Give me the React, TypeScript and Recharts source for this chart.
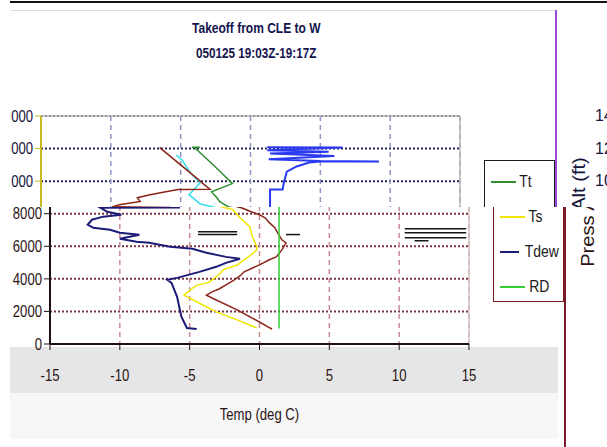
import { ScatterChart, Scatter, XAxis, YAxis, CartesianGrid, ReferenceLine } from "recharts";

const W = 607;
const H = 447;
const SPLIT = 207; // the upper band is drawn offset to the left
const SHIFT = -9;
const FONT = "'Liberation Sans', Arial, sans-serif";
const NARROW = 0.82; // Arial Narrow look from Liberation Sans

const PLOT = { left: 50, right: 469, top: 116, bottom: 344 };

const TEMP_TICKS = [-15, -10, -5, 0, 5, 10, 15];
const ALT_TICKS = [0, 2000, 4000, 6000, 8000, 10000, 12000, 14000];
const PRESS_TICKS = [14000, 12000, 10000, 8000];

// [temp degC, altitude ft]
const TT: [number, number][] = [
  [0.9, 920], [0.6, 1050], [0, 1350], [-1.6, 2100], [-3.1, 2700], [-3.8, 3000],
  [-3.4, 3200], [-2.9, 3380], [-2.4, 3630], [-1.8, 3940], [-1.3, 4250], [-1.1, 4430],
  [-0.5, 4670], [0, 4860], [0.7, 5170], [1.2, 5350], [1.6, 5780], [1.9, 6200],
  [1.6, 6400], [1.3, 6830], [1.1, 7140], [0.7, 7450], [0.4, 7750], [0, 7940],
  [-0.6, 8120], [-1.3, 8370], [-1.6, 8430], [-2.2, 8740], [-2.4, 8980], [-2.8, 9350],
  [-1.3, 9850], [-2.6, 10950], [-4.0, 12060], [-4.2, 12080], [-3.6, 12080],
];

const TS: [number, number][] = [
  [-0.2, 985], [-1.6, 1480], [-3.1, 1970], [-4.3, 2500], [-5.4, 3000], [-5.0, 3300],
  [-4.5, 3600], [-3.6, 3800], [-2.9, 4250], [-2.6, 4550], [-1.6, 4850], [-1.1, 5170],
  [-0.6, 5480], [-0.2, 5780], [-0.2, 5970], [-0.5, 6580], [-0.7, 7200], [-1.4, 7750],
  [-1.9, 8250], [-2.6, 8400], [-3.6, 8600], [-4.4, 9170], [-3.6, 9900], [-4.3, 10500],
  [-4.9, 11300], [-5.3, 11600],
];

const TDEW: [number, number][] = [
  [-4.5, 920], [-5.2, 985], [-5.6, 1700], [-5.9, 2900], [-6.3, 3750], [-6.6, 3940],
  [-5.9, 4060], [-4.3, 4430], [-3.1, 4740], [-2.4, 4980], [-1.4, 5230], [-2.4, 5350],
  [-3.8, 5600], [-4.8, 5850], [-6.4, 5970], [-7.9, 6210], [-8.8, 6280], [-10.0, 6460],
  [-8.6, 6710], [-10.0, 6830], [-10.7, 7020], [-11.9, 7140], [-12.3, 7320], [-12.0, 7630],
  [-11.2, 7820], [-9.9, 7940], [-10.9, 8120], [-11.4, 8370], [-5.7, 8380], [-9.9, 8420],
  [-9.4, 8550], [-7.9, 8750], [-8.1, 8980], [-7.2, 9170], [-5.2, 9480], [-2.9, 9500],
  [-3.4, 9850], [-3.6, 10000], [-5.0, 11000], [-6.5, 12060],
];

const RD: [number, number][] = [
  [1.4, 950], [1.4, 9480], [2.3, 9480], [2.4, 9970], [2.6, 10580], [3.3, 10900],
  [4.2, 11140], [5.0, 11200], [9.2, 11200], [5.0, 11230], [1.3, 11350], [6.0, 11550],
  [1.4, 11700], [5.6, 11800], [1.2, 11900], [6.6, 12060], [1.2, 12080],
];

// stray horizontal strokes in the lower band: [from, to, altitude]
const STREAKS: [number, number, number][] = [
  [-4.4, -1.6, 6900], [-4.4, -1.6, 6720], [1.9, 2.9, 6720],
  [10.4, 14.8, 7080], [10.4, 14.8, 6830], [10.4, 14.8, 6520], [11.1, 12.1, 6340],
];

const SERIES = [
  { key: "Tt", rows: TT },
  { key: "Ts", rows: TS },
  { key: "Tdew", rows: TDEW },
  { key: "RD", rows: RD },
];

type Palette = {
  series: Record<string, { stroke: string; width: number }>;
  hgrid: string;
  vgrid: string;
  axis: string;
  text: string;
  border: string;
  frame: string;
  upper: boolean;
};

const LOWER: Palette = {
  series: {
    Tt: { stroke: "#8a2418", width: 1.5 },
    Ts: { stroke: "#f0e600", width: 1.5 },
    Tdew: { stroke: "#1c1c78", width: 2 },
    RD: { stroke: "#36d036", width: 1.5 },
  },
  hgrid: "#7a3444",
  vgrid: "#c98a94",
  axis: "#1e1010",
  text: "#2a1414",
  border: "#d9c4c4",
  frame: "#7a1a2a",
  upper: false,
};

const UPPER: Palette = {
  series: {
    Tt: { stroke: "#2f8f2f", width: 1.5 },
    Ts: { stroke: "#38dce6", width: 1.5 },
    Tdew: { stroke: "#8a2418", width: 1.5 },
    RD: { stroke: "#2a3af0", width: 2 },
  },
  hgrid: "#24245e",
  vgrid: "#8c96c4",
  axis: "#c8b820",
  text: "#14143c",
  border: "#b8b8b8",
  frame: "#9a4ad8",
  upper: true,
};

const NoDot = () => null;

function altY(v: number) {
  return PLOT.bottom - (v / 14000) * (PLOT.bottom - PLOT.top);
}

function Narrow({ children, scale = NARROW }: { children: React.ReactNode; scale?: number }) {
  return (
    <span style={{ display: "inline-block", transform: `scaleX(${scale})`, whiteSpace: "nowrap" }}>
      {children}
    </span>
  );
}

// tick text squeezed horizontally around its anchor point
function NarrowTick(props: any) {
  const { x, y, payload, textAnchor, fill, dy, show } = props;
  if (!show(payload.value)) return null;
  return (
    <text
      x={x}
      y={y}
      dy={dy}
      textAnchor={textAnchor}
      fill={fill}
      fontFamily={FONT}
      fontSize={16}
      transform={`translate(${x} ${y}) scale(${NARROW} 1) translate(${-x} ${-y})`}
    >
      {payload.value}
    </text>
  );
}

function Frame({ p }: { p: Palette }) {
  const showAlt = (v: number) => (p.upper ? altY(v) < SPLIT - SHIFT : altY(v) > SPLIT - 10);
  const legendTop = 160;
  return (
    <div style={{ position: "relative", width: W, height: H, background: "#fff", fontFamily: FONT }}>
      {/* outer chart frame */}
      <div style={{ position: "absolute", left: 10, top: 10, width: 555, height: 1, background: "#dcdcdc" }} />
      <div style={{ position: "absolute", left: 564, top: 10, width: 2, height: H, background: p.frame }} />

      {!p.upper && (
        <>
          <div style={{ position: "absolute", left: 10, top: 347, width: 548, height: 46, background: "#e6e6e6" }} />
          <div style={{ position: "absolute", left: 10, top: 393, width: 548, height: 46, background: "#f7f7f7" }} />
        </>
      )}

      {p.upper && (
        <div
          style={{
            position: "absolute",
            left: 165,
            top: 15,
            width: 200,
            textAlign: "center",
            fontWeight: 700,
            fontSize: 15,
            lineHeight: "25px",
            color: "#16164e",
          }}
        >
          <div>
            <Narrow scale={0.8}>Takeoff from CLE to W</Narrow>
          </div>
          <div>
            <Narrow scale={0.78}>050125 19:03Z-19:17Z</Narrow>
          </div>
        </div>
      )}

      <div style={{ position: "absolute", left: 0, top: 0 }}>
        <ScatterChart
          width={W}
          height={H}
          margin={{ top: PLOT.top, right: W - PLOT.right, bottom: H - PLOT.bottom - 30, left: 0 }}
        >
          <CartesianGrid vertical={false} stroke={p.hgrid} strokeWidth={2} strokeDasharray="2 2" />
          <CartesianGrid horizontal={false} stroke={p.vgrid} strokeWidth={1.5} strokeDasharray="5 4" />
          <XAxis
            type="number"
            dataKey="x"
            domain={[-15, 15]}
            ticks={TEMP_TICKS}
            interval={0}
            height={30}
            tickSize={6}
            tickMargin={20}
            tick={(t: any) => <NarrowTick {...t} fill={p.text} dy="0.71em" show={() => !p.upper} />}
            axisLine={{ stroke: p.axis, strokeWidth: 2 }}
            tickLine={{ stroke: p.axis }}
          />
          <YAxis
            type="number"
            dataKey="y"
            domain={[0, 14000]}
            ticks={ALT_TICKS}
            interval={0}
            width={50}
            tickSize={6}
            tickMargin={2}
            tick={(t: any) => <NarrowTick {...t} fill={p.text} dy="0.355em" show={showAlt} />}
            axisLine={{ stroke: p.axis, strokeWidth: 2 }}
            tickLine={{ stroke: p.axis }}
          />
          <ReferenceLine y={14000} stroke={p.border} strokeWidth={1.5} />
          <ReferenceLine x={15} stroke={p.border} strokeWidth={1.5} />
          {SERIES.map((s) => (
            <Scatter
              key={s.key}
              name={s.key}
              data={s.rows.map(([x, y]) => ({ x, y }))}
              fill={p.series[s.key].stroke}
              line={{ stroke: p.series[s.key].stroke, strokeWidth: p.series[s.key].width }}
              lineType="joint"
              shape={NoDot}
              legendType="none"
              isAnimationActive={false}
            />
          ))}
          {!p.upper &&
            STREAKS.map(([a, b, y], i) => (
              <ReferenceLine
                key={i}
                segment={[{ x: a, y }, { x: b, y }]}
                stroke="#141414"
                strokeWidth={1.5}
              />
            ))}
        </ScatterChart>
      </div>

      {!p.upper && (
        <div
          style={{
            position: "absolute",
            left: PLOT.left,
            width: PLOT.right - PLOT.left,
            top: 405,
            textAlign: "center",
            fontSize: 16,
            lineHeight: "20px",
            color: p.text,
          }}
        >
          <Narrow>Temp (deg C)</Narrow>
        </div>
      )}

      {/* legend */}
      <div
        style={{
          position: "absolute",
          left: 493,
          top: legendTop,
          width: 71,
          height: 142,
          boxSizing: "border-box",
          border: `1.5px solid ${p.upper ? "#1a1a1a" : "#7a1a1a"}`,
          background: "#fff",
          paddingTop: 3,
        }}
      >
        {SERIES.map((s, i) => {
          const cy = legendTop + 4.5 + 17.5 + i * 35;
          const visible = p.upper ? cy < SPLIT - 10 : cy > SPLIT;
          return (
            <div key={s.key} style={{ display: "flex", alignItems: "center", height: 35 }}>
              <span
                style={{
                  display: "inline-block",
                  marginLeft: 5.5,
                  width: 25,
                  height: 2,
                  background: p.series[s.key].stroke,
                }}
              />
              {visible && (
                <span style={{ marginLeft: 2, fontSize: 17, color: "#1a1a1a", transformOrigin: "left" }}>
                  <Narrow>{s.key}</Narrow>
                </span>
              )}
            </div>
          );
        })}
      </div>

      {/* neighbouring chart's altitude axis */}
      <div
        style={{
          position: "absolute",
          left: 588 - 70,
          top: 212 - 11,
          width: 140,
          height: 22,
          lineHeight: "22px",
          textAlign: "center",
          fontSize: 19,
          color: p.text,
          transform: "rotate(-90deg) scaleX(1.06)",
          whiteSpace: "nowrap",
        }}
      >
        Press Alt (ft)
      </div>
      {p.upper &&
        PRESS_TICKS.map((v) => (
          <div
            key={v}
            style={{
              position: "absolute",
              left: 604,
              top: altY(v) - 10,
              lineHeight: "20px",
              fontSize: 16,
              color: p.text,
            }}
          >
            {v}
          </div>
        ))}
    </div>
  );
}

export default function App() {
  return (
    <div style={{ position: "fixed", left: 0, top: 0, width: W, height: H, overflow: "hidden", background: "#fff" }}>
      <div style={{ position: "absolute", left: 0, top: SPLIT, width: W, height: H - SPLIT, overflow: "hidden" }}>
        <div style={{ position: "absolute", left: 0, top: -SPLIT }}>
          <Frame p={LOWER} />
        </div>
      </div>
      <div style={{ position: "absolute", left: 11, top: 0, width: W - 11, height: SPLIT, overflow: "hidden" }}>
        <div style={{ position: "absolute", left: SHIFT - 11, top: 0 }}>
          <Frame p={UPPER} />
        </div>
      </div>
      <div style={{ position: "absolute", left: 10, top: 1, width: W - 10, height: 2, background: "#111" }} />
    </div>
  );
}
